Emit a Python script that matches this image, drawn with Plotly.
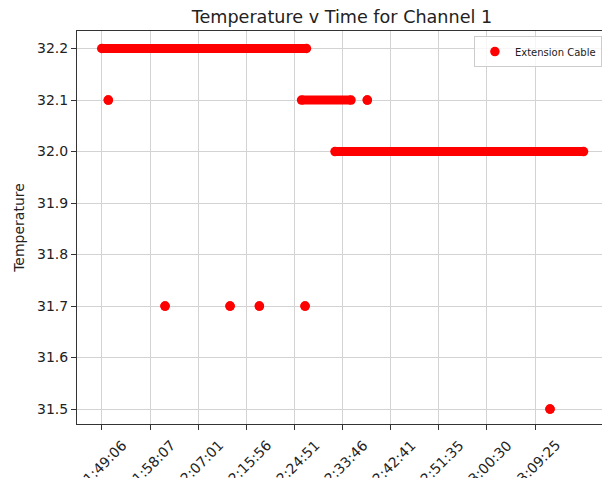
import plotly.graph_objects as go

DAY = "2024-01-01 "

# Runs of constant temperature (start time, end time, value)
run_start = ["11:49:06", "11:50:19", "12:00:50", "12:12:53", "12:18:19",
             "12:26:47", "12:26:08", "12:38:19", "12:32:20", "13:12:11"]
run_end = ["12:27:03", "11:50:19", "12:00:50", "12:12:53", "12:18:19",
           "12:26:47", "12:35:18", "12:38:19", "13:18:24", "13:12:11"]
run_temp = [32.2, 32.1, 31.7, 31.7, 31.7, 31.7, 32.1, 32.1, 32.0, 31.5]

tick_labels = ["11:49:06", "11:58:07", "12:07:01", "12:15:56", "12:24:51",
               "12:33:46", "12:42:41", "12:51:35", "13:00:30", "13:09:25"]
y_ticks = [31.5, 31.6, 31.7, 31.8, 31.9, 32.0, 32.1, 32.2]

RED = "#ff0000"
FONT = "DejaVu Sans"
TXT = "#222222"

lx, ly = [], []
mx, my = [], []
for s, e, v in zip(run_start, run_end, run_temp):
    if s != e:
        lx += [DAY + s, DAY + e, None]
        ly += [v, v, None]
    mx += [DAY + s, DAY + e]
    my += [v, v]

fig = go.Figure()
fig.add_trace(go.Scatter(x=lx, y=ly, mode="lines",
                         line=dict(color=RED, width=9),
                         showlegend=False, hoverinfo="skip"))
fig.add_trace(go.Scatter(x=mx, y=my, mode="markers",
                         marker=dict(color=RED, size=9.5, line=dict(width=0)),
                         name="Extension Cable"))

tick_x = [DAY + t for t in tick_labels]
for tx, tl in zip(tick_x, tick_labels):
    fig.add_annotation(x=tx, y=0, xref="x", yref="paper", text=tl,
                       showarrow=False, textangle=-45,
                       xanchor="center", yanchor="top",
                       xshift=0, yshift=-10,
                       font=dict(family=FONT, size=14, color=TXT))

fig.update_layout(
    width=602, height=478,
    margin=dict(l=77, r=0, t=31, b=54),
    paper_bgcolor="white", plot_bgcolor="white",
    font=dict(family=FONT, size=14, color=TXT),
    title=dict(text="Temperature v Time for Channel 1", xref="container",
               x=0.568, xanchor="center", y=0.965, yanchor="middle",
               font=dict(family=FONT, size=17.6, color=TXT)),
    legend=dict(x=0.756, y=0.987, xanchor="left", yanchor="top",
                bgcolor="rgba(255,255,255,0.8)", bordercolor="#cccccc",
                borderwidth=1, font=dict(family=FONT, size=10, color=TXT),
                itemwidth=30, entrywidth=120, entrywidthmode="pixels"),
    showlegend=True,
)
fig.update_xaxes(type="date",
                 range=[DAY + "11:44:31", DAY + "13:21:49"],
                 tickvals=tick_x, showticklabels=False,
                 ticks="outside", ticklen=5, tickcolor="#333333",
                 showgrid=True, gridcolor="#d3d3d3", gridwidth=1,
                 showline=True, linecolor="#333333", linewidth=1,
                 mirror=True, zeroline=False)
fig.update_yaxes(range=[31.471, 32.234], tickvals=y_ticks,
                 tickformat=".1f",
                 ticks="outside", ticklen=5, tickcolor="#333333",
                 showgrid=True, gridcolor="#d3d3d3", gridwidth=1,
                 showline=True, linecolor="#333333", linewidth=1,
                 mirror=False, zeroline=False,
                 title=dict(text="Temperature", standoff=9,
                            font=dict(family=FONT, size=14, color=TXT)))

fig.write_html("out.html",
               config={"displayModeBar": False},
               post_script="document.body.style.margin='0px';"
                           "document.body.style.overflow='hidden';")
